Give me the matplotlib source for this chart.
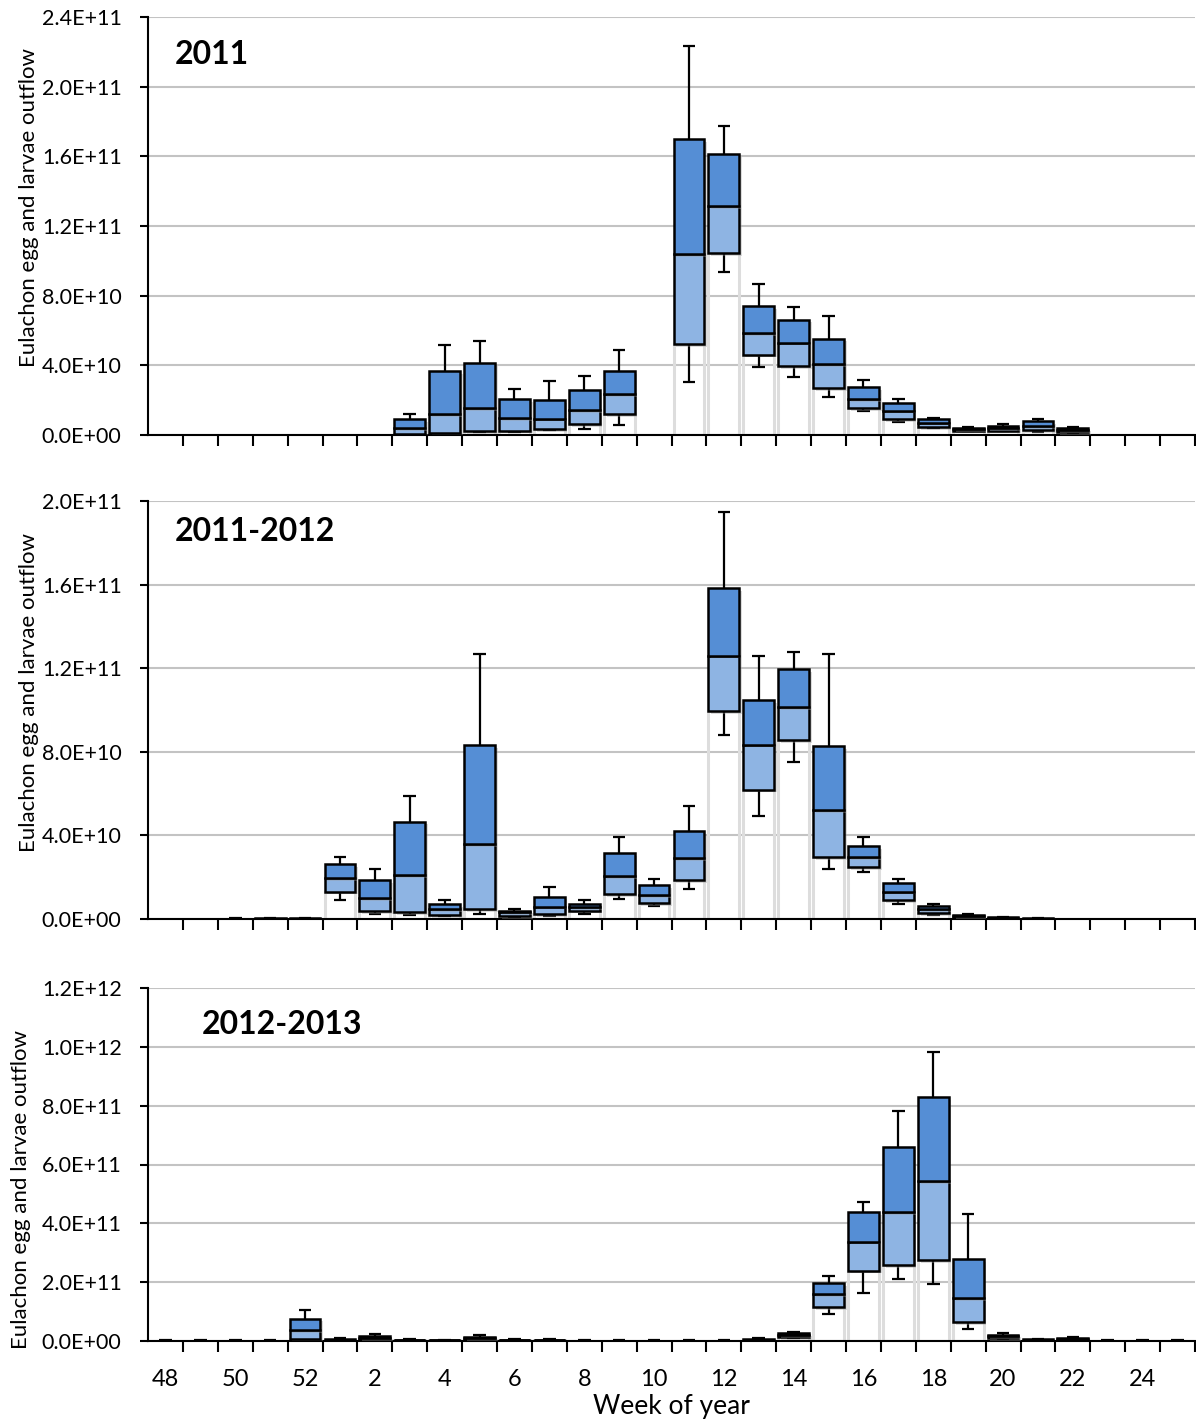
import matplotlib.pyplot as plt
import matplotlib.patheffects as pe
import numpy as np

# week categories (Dec -> Jun)
weeks = [48, 49, 50, 51, 52] + list(range(1, 26))
tick_labels = [str(w) for w in weeks[::2]]
nan = np.nan

# 2011, values in 1E10
p1_min = [nan]*7 + [0.00, 0.05, 0.17, 0.19, 0.27, 0.36, 0.57, nan, 3.02, 9.38, 3.89, 3.35, 2.20, 1.40, 0.73, 0.40, 0.22, 0.21, 0.17, 0.13, nan, nan, nan]
p1_q1 = [nan]*7 + [0.04, 0.13, 0.23, 0.25, 0.33, 0.63, 1.21, nan, 5.21, 10.45, 4.61, 3.96, 2.70, 1.55, 0.92, 0.46, 0.25, 0.25, 0.27, 0.17, nan, nan, nan]
p1_med = [nan]*7 + [0.38, 1.19, 1.53, 0.96, 0.94, 1.45, 2.35, nan, 10.37, 13.15, 5.87, 5.30, 4.08, 2.08, 1.40, 0.71, 0.34, 0.38, 0.52, 0.29, nan, nan, nan]
p1_q3 = [nan]*7 + [0.92, 3.69, 4.13, 2.08, 1.99, 2.58, 3.69, nan, 16.97, 16.13, 7.39, 6.62, 5.53, 2.77, 1.86, 0.90, 0.42, 0.53, 0.79, 0.40, nan, nan, nan]
p1_max = [nan]*7 + [1.22, 5.17, 5.40, 2.66, 3.10, 3.37, 4.88, nan, 22.35, 17.72, 8.65, 7.33, 6.81, 3.16, 2.08, 0.99, 0.45, 0.61, 0.92, 0.44, nan, nan, nan]

# 2011-2012, values in 1E10
p2_min = [nan, nan, 0.00, 0.00, 0.00, 0.91, 0.24, 0.21, 0.13, 0.24, 0.08, 0.14, 0.25, 0.97, 0.64, 1.44, 8.80, 4.93, 7.50, 2.38, 2.23, 0.73, 0.19, 0.04, 0.01, 0.00, nan, nan, nan, nan]
p2_q1 = [nan, nan, 0.005, 0.01, 0.01, 1.31, 0.37, 0.32, 0.19, 0.46, 0.14, 0.22, 0.40, 1.20, 0.77, 1.87, 9.95, 6.19, 8.56, 2.97, 2.47, 0.91, 0.27, 0.06, 0.02, 0.01, nan, nan, nan, nan]
p2_med = [nan, nan, 0.01, 0.02, 0.02, 1.96, 1.00, 2.11, 0.49, 3.59, 0.32, 0.59, 0.56, 2.06, 1.15, 2.93, 12.60, 8.34, 10.14, 5.22, 2.95, 1.31, 0.46, 0.14, 0.05, 0.02, nan, nan, nan, nan]
p2_q3 = [nan, nan, 0.02, 0.03, 0.03, 2.62, 1.87, 4.66, 0.73, 8.33, 0.40, 1.07, 0.73, 3.17, 1.63, 4.21, 15.85, 10.48, 11.95, 8.29, 3.48, 1.71, 0.64, 0.21, 0.08, 0.03, nan, nan, nan, nan]
p2_max = [nan, nan, 0.03, 0.04, 0.04, 2.97, 2.39, 5.90, 0.89, 12.66, 0.46, 1.53, 0.89, 3.94, 1.91, 5.41, 19.46, 12.58, 12.79, 12.66, 3.91, 1.93, 0.72, 0.24, 0.10, 0.04, nan, nan, nan, nan]

# 2012-2013, values in 1E11
p3_min = [0.0, 0.0, 0.0, 0.0, 0.00, 0.01, 0.02, 0.01, 0.01, 0.03, 0.01, 0.01, 0.0, 0.0, 0.0, 0.0, 0.0, 0.02, 0.10, 0.91, 1.64, 2.12, 1.95, 0.42, 0.07, 0.01, 0.03, 0.0, 0.0, 0.0]
p3_q1 = [0.005, 0.005, 0.005, 0.005, 0.06, 0.02, 0.04, 0.02, 0.02, 0.05, 0.02, 0.02, 0.005, 0.005, 0.005, 0.005, 0.005, 0.03, 0.13, 1.15, 2.39, 2.58, 2.76, 0.64, 0.10, 0.02, 0.05, 0.005, 0.005, 0.005]
p3_med = [0.01, 0.01, 0.01, 0.01, 0.37, 0.04, 0.09, 0.03, 0.03, 0.10, 0.03, 0.03, 0.01, 0.01, 0.01, 0.01, 0.01, 0.05, 0.20, 1.59, 3.38, 4.37, 5.44, 1.45, 0.16, 0.04, 0.08, 0.01, 0.01, 0.01]
p3_q3 = [0.015, 0.015, 0.015, 0.015, 0.76, 0.07, 0.17, 0.05, 0.04, 0.15, 0.05, 0.04, 0.015, 0.015, 0.015, 0.015, 0.015, 0.07, 0.26, 1.96, 4.37, 6.60, 8.29, 2.79, 0.22, 0.06, 0.11, 0.015, 0.015, 0.015]
p3_max = [0.02, 0.02, 0.02, 0.02, 1.05, 0.09, 0.23, 0.06, 0.05, 0.21, 0.06, 0.06, 0.02, 0.02, 0.02, 0.02, 0.02, 0.09, 0.32, 2.21, 4.72, 7.82, 9.82, 4.33, 0.27, 0.07, 0.14, 0.02, 0.02, 0.02]

panels = [
    ('2011', 1e10, (p1_min, p1_q1, p1_med, p1_q3, p1_max), 2.4e11, 4e10, (17, 435), (0.026, 0.91), (-0.104, 0.545)),
    ('2011-2012', 1e10, (p2_min, p2_q1, p2_med, p2_q3, p2_max), 2.0e11, 4e10, (501, 919), (0.026, 0.928), (-0.104, 0.543)),
    ('2012-2013', 1e11, (p3_min, p3_q1, p3_med, p3_q3, p3_max), 1.2e12, 2e11, (988, 1341), (0.051, 0.898), (-0.112, 0.43)),
]

plt.rcParams['font.family'] = ['Lato', 'DejaVu Sans']
W, H = 1196, 1422
fig = plt.figure(figsize=(W / 100, H / 100), dpi=100)

dark = '#558ed5'
light = '#8eb4e3'
x = np.arange(len(weeks))
bw = 0.88
shadow = [pe.SimplePatchShadow(offset=(2, -2), shadow_rgbFace='#999999', alpha=0.35), pe.Normal()]

for k, (title, unit, stats, ymax, ystep, (top, bot), tpos, lpos) in enumerate(panels):
    ax = fig.add_axes([148 / W, 1 - bot / H, (1195 - 148) / W, (bot - top) / H])
    mn, q1, md, q3, mx = [np.array(s, dtype=float) * unit for s in stats]
    ok = ~np.isnan(md)
    xs = x[ok]

    # faint grey columns under the boxes
    ax.bar(xs, q1[ok], width=bw, bottom=0, facecolor='none', edgecolor='#dddddd', lw=2.2, zorder=1)
    # whiskers
    ax.vlines(xs, q3[ok], mx[ok], color='black', lw=1.6, zorder=2)
    ax.vlines(xs, mn[ok], q1[ok], color='black', lw=1.6, zorder=2)
    ax.hlines(mx[ok], xs - 0.18, xs + 0.18, color='black', lw=1.6, zorder=2)
    ax.hlines(mn[ok], xs - 0.18, xs + 0.18, color='black', lw=1.6, zorder=2)
    # boxes
    lo = ax.bar(xs, md[ok] - q1[ok], bottom=q1[ok], width=bw, color=light, edgecolor='black', lw=1.8, zorder=3)
    hi = ax.bar(xs, q3[ok] - md[ok], bottom=md[ok], width=bw, color=dark, edgecolor='black', lw=1.8, zorder=3)
    for p in list(lo) + list(hi):
        p.set_path_effects(shadow)

    ax.set_xlim(-0.5, len(weeks) - 0.5)
    ax.set_ylim(0, ymax)
    yt = np.arange(0, ymax + ystep / 2, ystep)
    ax.set_yticks(yt)
    ax.set_yticklabels([f'{v:.1E}' for v in yt])
    ax.yaxis.grid(True, color='#c3c3c3', lw=1.5)
    ax.set_axisbelow(True)
    for s in ['top', 'right']:
        ax.spines[s].set_visible(False)
    ax.spines['left'].set_linewidth(1.5)
    ax.spines['bottom'].set_linewidth(1.5)
    ax.tick_params(axis='y', labelsize=15.5, length=6, width=1.5, pad=13)

    ax.set_xticks(np.arange(0.5, len(weeks), 1), minor=True)
    ax.tick_params(axis='x', which='minor', length=8, width=1.5, direction='out')
    if k == 2:
        ax.set_xticks(x[::2])
        ax.set_xticklabels(tick_labels)
        ax.tick_params(axis='x', which='major', length=0, labelsize=17, pad=20)
        ax.set_xlabel('Week of year', fontsize=19, labelpad=3)
    else:
        ax.set_xticks([])

    ax.set_ylabel('Eulachon egg and larvae outflow', fontsize=16)
    ax.yaxis.set_label_coords(*lpos)
    ax.text(tpos[0], tpos[1], title, transform=ax.transAxes, fontsize=23,
            fontweight='bold', va='center', ha='left')

fig.savefig('out.png', dpi=100)
